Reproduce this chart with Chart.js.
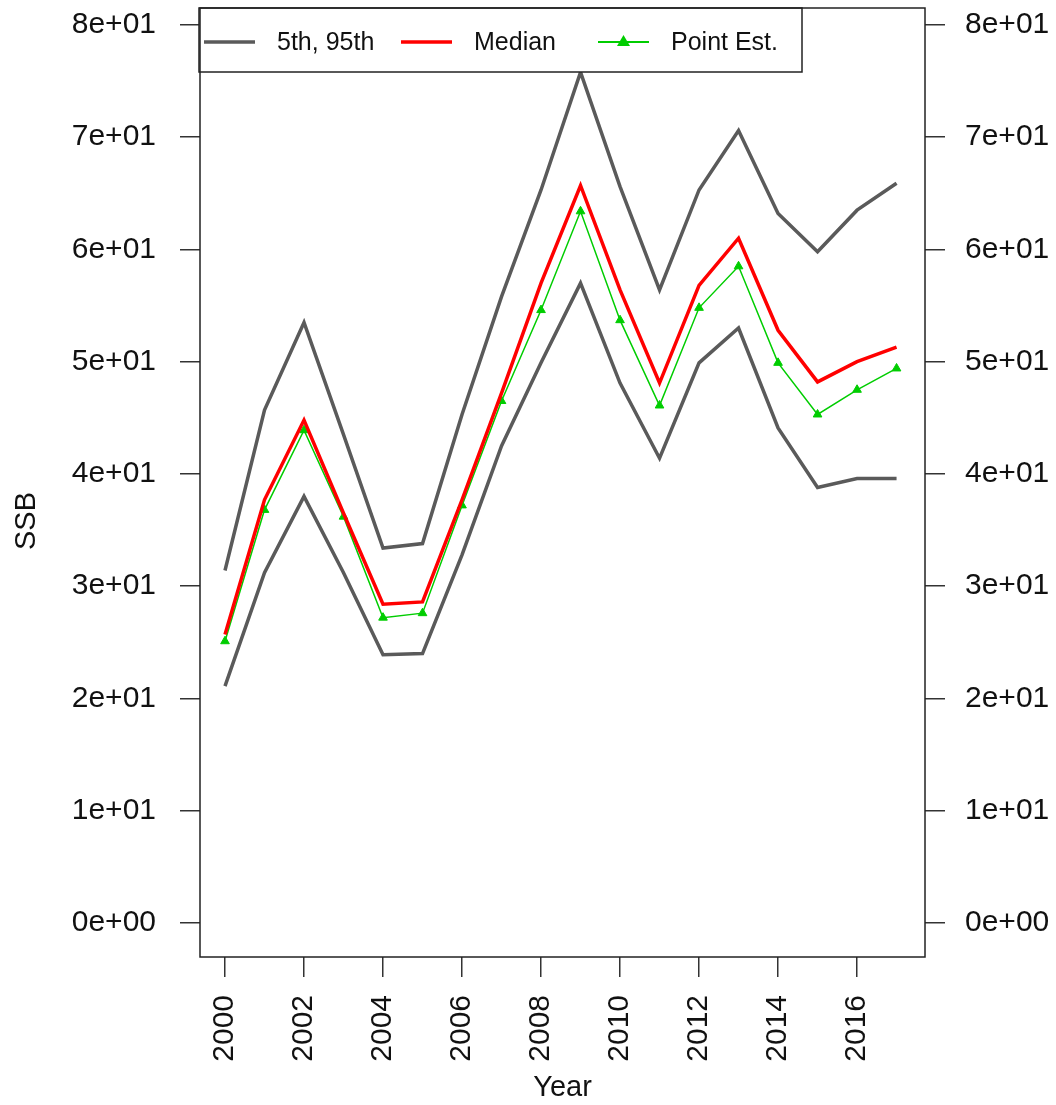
<!DOCTYPE html>
<html>
<head>
<meta charset="utf-8">
<script src="https://cdn.jsdelivr.net/npm/chart.js@4.4.1/dist/chart.umd.min.js"></script>
<style>
  html, body { margin: 0; padding: 0; background: #fff; }
  #wrap { width: 1056px; height: 1105px; position: relative; }
</style>
</head>
<body>
<div id="wrap"><canvas id="ssbChart"></canvas></div>
<script>
// values
const years = [2000, 2001, 2002, 2003, 2004, 2005, 2006, 2007, 2008, 2009, 2010, 2011, 2012, 2013, 2014, 2015, 2016, 2017];
const upper95 = [31.4, 45.7, 53.5, 43.5, 33.4, 33.8, 45.3, 55.8, 65.3, 75.8, 65.6, 56.4, 65.3, 70.6, 63.2, 59.8, 63.5, 65.9];
const lower5 = [21.1, 31.2, 38.0, 31.2, 23.9, 24.0, 32.8, 42.5, 49.9, 57.0, 48.1, 41.4, 49.9, 53.0, 44.1, 38.8, 39.6, 39.6];
const median = [25.7, 37.7, 44.8, 36.5, 28.4, 28.6, 37.7, 47.2, 57.0, 65.7, 56.4, 48.1, 56.8, 61.0, 52.8, 48.2, 50.0, 51.3];
const pointEst = [25.1, 36.8, 43.9, 36.2, 27.2, 27.6, 37.2, 46.5, 54.6, 63.4, 53.7, 46.1, 54.8, 58.5, 49.9, 45.3, 47.5, 49.4];

const xTicks = [2000, 2002, 2004, 2006, 2008, 2010, 2012, 2014, 2016];
const yTicks = [0, 10, 20, 30, 40, 50, 60, 70, 80];
const legendLabels = ['5th, 95th', 'Median', 'Point Est.'];

const GRAY = '#5a5a5a';
const RED = '#ff0000';
const GREEN = '#00cd00';
const FONT = '"Liberation Sans", Arial, sans-serif';

function toXY(vals) {
    return vals.map((v, i) => ({ x: years[i], y: v }));
}

// R style labels: 8e+01, 0e+00
function sciLabel(v) {
    if (v === 0) return '0e+00';
    const exp = Math.floor(Math.log10(Math.abs(v)));
    const mant = Math.round(v / Math.pow(10, exp));
    const sign = exp < 0 ? '-' : '+';
    return mant + 'e' + sign + String(Math.abs(exp)).padStart(2, '0');
}

const boxAndLegend = {
    id: 'boxAndLegend',
    afterDatasetsDraw(chart) {
        const ctx = chart.ctx;
        const a = chart.chartArea;
        ctx.save();

        // legend box in the top left corner
        const lx = a.left - 1, ly = a.top, lw = 603, lh = 64;
        ctx.fillStyle = '#fff';
        ctx.fillRect(lx, ly, lw, lh);
        ctx.strokeStyle = '#222';
        ctx.lineWidth = 1.5;
        ctx.strokeRect(lx, ly, lw, lh);

        const items = [
            { color: GRAY, width: 3.5, x: 204, marker: false },
            { color: RED, width: 3.5, x: 401, marker: false },
            { color: GREEN, width: 2, x: 598, marker: true }
        ];
        const cy = ly + 34;
        ctx.font = '25px ' + FONT;
        ctx.textBaseline = 'middle';
        ctx.textAlign = 'left';
        items.forEach((it, i) => {
            ctx.strokeStyle = it.color;
            ctx.lineWidth = it.width;
            ctx.beginPath();
            ctx.moveTo(it.x, cy);
            ctx.lineTo(it.x + 51, cy);
            ctx.stroke();
            if (it.marker) {
                ctx.fillStyle = it.color;
                ctx.beginPath();
                ctx.moveTo(it.x + 25.5, cy - 7);
                ctx.lineTo(it.x + 32, cy + 4);
                ctx.lineTo(it.x + 19, cy + 4);
                ctx.closePath();
                ctx.fill();
            }
            ctx.fillStyle = '#111';
            ctx.fillText(legendLabels[i], it.x + 73, cy + 1);
        });

        // plot frame
        ctx.strokeStyle = '#222';
        ctx.lineWidth = 1.5;
        ctx.strokeRect(a.left, a.top, a.right - a.left, a.bottom - a.top);

        // y axis title
        ctx.translate(27, 521);
        ctx.rotate(-Math.PI / 2);
        ctx.font = '29px ' + FONT;
        ctx.textAlign = 'center';
        ctx.fillStyle = '#111';
        ctx.fillText('SSB', 0, 0);
        ctx.restore();
    }
};

const yRange = { min: -3.03, max: 81.51 };

function yAxis(position, width, pad) {
    return {
        type: 'linear',
        position: position,
        min: yRange.min,
        max: yRange.max,
        afterBuildTicks: ax => { ax.ticks = yTicks.map(v => ({ value: v })); },
        afterFit: ax => {
            ax.width = width;
            ax.paddingTop = 0;
            ax.paddingBottom = 0;
        },
        ticks: {
            callback: v => sciLabel(v),
            font: { family: FONT, size: 30 },
            color: '#111',
            padding: pad
        },
        grid: { drawOnChartArea: false, drawTicks: true, tickLength: 20, color: '#333', lineWidth: 1.5 },
        border: { display: false }
    };
}

new Chart(document.getElementById('ssbChart'), {
    type: 'line',
    data: {
        datasets: [
            { label: '5th', data: toXY(lower5), borderColor: GRAY, borderWidth: 3.5, pointRadius: 0, tension: 0 },
            { label: '95th', data: toXY(upper95), borderColor: GRAY, borderWidth: 3.5, pointRadius: 0, tension: 0 },
            { label: 'Median', data: toXY(median), borderColor: RED, borderWidth: 3.5, pointRadius: 0, tension: 0 },
            {
                label: 'Point Est.', data: toXY(pointEst), borderColor: GREEN, borderWidth: 1.5,
                pointStyle: 'triangle', pointRadius: 5, pointBackgroundColor: GREEN, pointBorderColor: GREEN,
                pointBorderWidth: 1, tension: 0
            }
        ]
    },
    options: {
        responsive: true,
        maintainAspectRatio: false,
        animation: false,
        layout: { padding: { top: 8, left: 0, right: 0, bottom: 0 } },
        plugins: { legend: { display: false }, tooltip: { enabled: false } },
        scales: {
            x: {
                type: 'linear',
                position: 'bottom',
                min: 1999.367,
                max: 2017.72,
                afterBuildTicks: ax => { ax.ticks = xTicks.map(v => ({ value: v })); },
                afterFit: ax => {
                    ax.height = 148;
                    ax.paddingLeft = 0;
                    ax.paddingRight = 0;
                },
                ticks: {
                    callback: v => String(v),
                    font: { family: FONT, size: 30 },
                    color: '#111',
                    maxRotation: 90,
                    minRotation: 90,
                    padding: 18
                },
                grid: { drawOnChartArea: false, drawTicks: true, tickLength: 20, color: '#333', lineWidth: 1.5 },
                border: { display: false },
                title: {
                    display: true,
                    text: 'Year',
                    font: { family: FONT, size: 29 },
                    color: '#111',
                    padding: { top: 0, bottom: 0 }
                }
            },
            y: yAxis('left', 200, 24),
            y2: yAxis('right', 131, 20)
        }
    },
    plugins: [boxAndLegend]
});
</script>
</body>
</html>
